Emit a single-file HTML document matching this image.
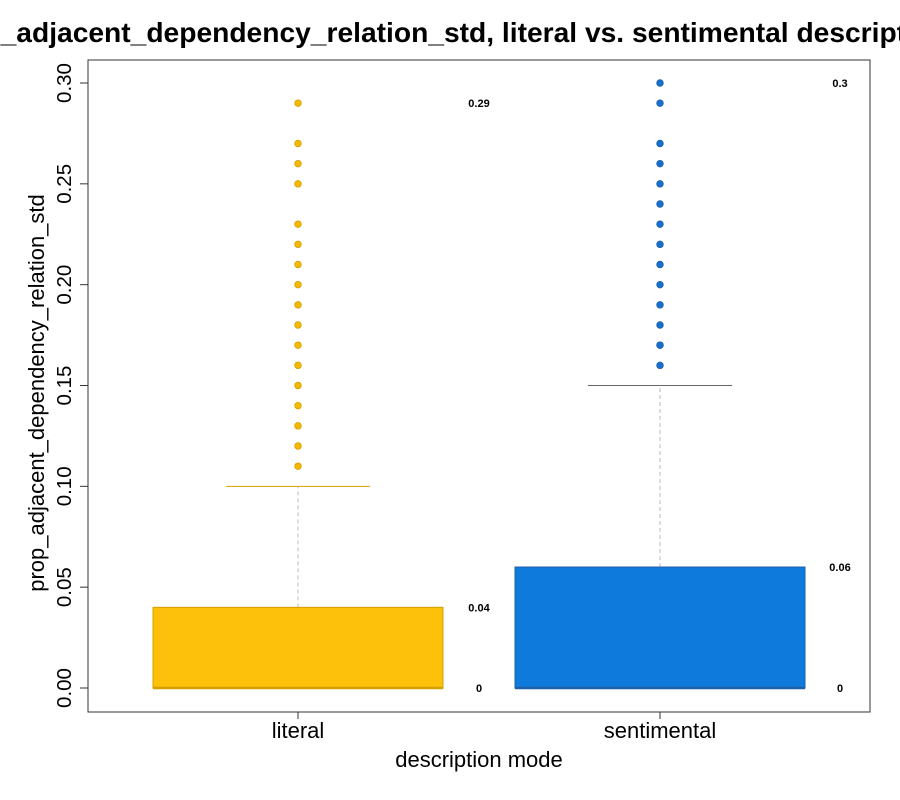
<!DOCTYPE html>
<html><head><meta charset="utf-8"><style>
body{margin:0;background:#fff}
svg{display:block;font-family:"Liberation Sans",Arial,sans-serif}
</style></head><body>
<svg id="c" width="900" height="800">
<text x="-62" y="42" font-size="28.2" font-weight="bold">prop_adjacent_dependency_relation_std, literal vs. sentimental descriptions</text>
<rect x="88" y="60" width="782" height="652" fill="none" stroke="#333" stroke-width="1"/>
<text transform="translate(44,393) rotate(-90)" text-anchor="middle" font-size="22">prop_adjacent_dependency_relation_std</text>
<text x="479" y="767" text-anchor="middle" font-size="22">description mode</text>
<g id="g"></g>
</svg>
<script>
const categories=["literal","sentimental"];
const q1=[0,0];
const medians=[0,0];
const q3=[0.04,0.06];
const whiskerHi=[0.10,0.15];
const outliersLiteral=[0.11,0.12,0.13,0.14,0.15,0.16,0.17,0.18,0.19,0.20,0.21,0.22,0.23,0.25,0.26,0.27,0.29];
const outliersSentimental=[0.16,0.17,0.17,0.18,0.19,0.20,0.21,0.22,0.23,0.24,0.25,0.26,0.27,0.29,0.30];
const yTicks=[0,0.05,0.10,0.15,0.20,0.25,0.30];
const yTickLabels=["0.00","0.05","0.10","0.15","0.20","0.25","0.30"];
const fills=["#FDC10B","#0E7BDC"];
const strokes=["#D4A000","#1F5FA8"];
const dotFill=["#F5B800","#1570D0"];
const y=v=>688-v*(605/0.30);
const x=i=>298+i*362;
const ns="http://www.w3.org/2000/svg";
const g=document.getElementById('g');
function mk(t,a){const e=document.createElementNS(ns,t);for(const k in a)e.setAttribute(k,a[k]);g.appendChild(e);return e;}
yTicks.forEach((v,i)=>{
  const l=mk('line',{x1:80,x2:88,y1:y(v),y2:y(v),stroke:'#333'});
  
  
  const t=mk('text',{transform:`translate(71,${y(v)}) rotate(-90)`,'text-anchor':'middle','font-size':20.5});
  t.textContent=yTickLabels[i];
  
  
});
mk('line',{x1:88,x2:88,y1:y(0),y2:y(0.30),stroke:'#333'});
const outs=[outliersLiteral,outliersSentimental];
categories.forEach((c,i)=>{
  const cx=x(i);
  const w=mk('line',{x1:cx,x2:cx,y1:y(q3[i]),y2:y(whiskerHi[i]),stroke:'#bbb','stroke-dasharray':'4,3'});
  
  
  const cap=mk('line',{x1:cx-72,x2:cx+72,y1:y(whiskerHi[i]),y2:y(whiskerHi[i]),stroke:i?'#666':strokes[0]});
  
  
  const b=mk('rect',{x:cx-145,width:290,y:y(q3[i]),height:y(q1[i])-y(q3[i]),fill:fills[i],stroke:strokes[i]});
  
  
  const m=mk('line',{x1:cx-145,x2:cx+145,y1:y(medians[i]),y2:y(medians[i]),stroke:strokes[i],'stroke-width':2.5});
  
  
  outs[i].forEach(v=>{
    const d=mk('circle',{cx:cx,cy:y(v),r:3.3,fill:dotFill[i],stroke:strokes[i],'stroke-width':0.8});
    
    
  });
  const lx=i?840:479;
  const vals=[Math.max(...outs[i]),q3[i],q1[i]];
  vals.forEach(v=>{
    const t=mk('text',{x:lx,y:y(v)+4,'text-anchor':'middle','font-size':11,'font-weight':'bold'});
    t.textContent=String(+v.toFixed(2));
    
    
  });
  const tk=mk('line',{x1:cx,x2:cx,y1:712,y2:719,stroke:'#333'});
  
  
  const xl=mk('text',{x:cx,y:738,'text-anchor':'middle','font-size':22});
  xl.textContent=c;
  
  
});
</script>
</body></html>
